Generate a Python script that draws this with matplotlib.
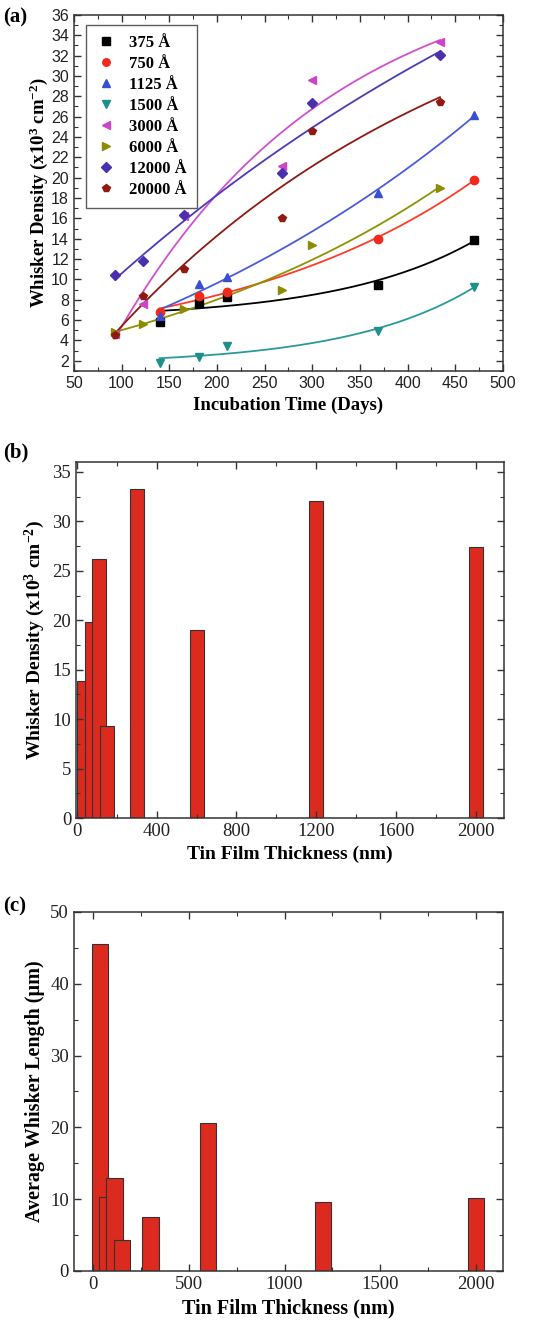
import numpy as np
import matplotlib
matplotlib.use('Agg')
import matplotlib.pyplot as plt
from matplotlib.ticker import MultipleLocator

# ---- panel (a): whisker density vs incubation time ----
labels_a = ['375 Å', '750 Å', '1125 Å', '1500 Å', '3000 Å', '6000 Å', '12000 Å', '20000 Å']
days_375 = [140, 181, 211, 369, 470]
dens_375 = [5.8, 7.7, 8.3, 9.45, 13.9]
days_750 = [140, 181, 211, 369, 470]
dens_750 = [6.8, 8.4, 8.75, 14.0, 19.8]
days_1125 = [140, 181, 211, 369, 470]
dens_1125 = [6.4, 9.5, 10.25, 18.5, 26.2]
days_1500 = [140, 181, 211, 369, 470]
dens_1500 = [1.75, 2.4, 3.5, 4.9, 9.3]
days_3000 = [93, 123, 166, 268, 300, 434]
dens_3000 = [4.6, 7.55, 16.2, 21.1, 29.6, 33.3]
days_6000 = [93, 123, 166, 268, 300, 434]
dens_6000 = [4.85, 5.65, 7.1, 9.0, 13.35, 19.0]
days_12000 = [93, 123, 166, 268, 300, 434]
dens_12000 = [10.4, 11.8, 16.3, 20.5, 27.35, 32.1]
days_20000 = [93, 123, 166, 268, 300, 434]
dens_20000 = [4.5, 8.4, 11.05, 16.05, 24.6, 27.4]

# ---- panels (b) and (c): vs film thickness ----
thickness_nm = [37.5, 75, 112.5, 150, 300, 600, 1200, 2000]
density_b = [13.9, 19.8, 26.2, 9.3, 33.3, 19.0, 32.1, 27.4]
length_c = [45.5, 10.3, 13.0, 4.3, 7.5, 20.6, 9.6, 10.1]

series = [
    (days_375, dens_375, 's', '#000000', '#000000'),
    (days_750, dens_750, 'o', '#f02a1c', '#ff3b2a'),
    (days_1125, dens_1125, '^', '#3a4fd0', '#4a5cd8'),
    (days_1500, dens_1500, 'v', '#1f8f8c', '#2a9a98'),
    (days_3000, dens_3000, '<', '#cc44c8', '#d050d0'),
    (days_6000, dens_6000, '>', '#8c8c00', '#8c9400'),
    (days_12000, dens_12000, 'D', '#4a2fae', '#4a3cb8'),
    (days_20000, dens_20000, 'p', '#8e1a12', '#8e1a12'),
]

serif = 'Liberation Serif'
sans = 'Liberation Sans'
bar_color = '#dc2a1e'
edge = '#333333'

plt.rcParams['mathtext.fontset'] = 'custom'
plt.rcParams['mathtext.rm'] = 'Liberation Serif:bold'
plt.rcParams['mathtext.bf'] = 'Liberation Serif:bold'
plt.rcParams['mathtext.it'] = 'Liberation Serif:bold'


def exp_fit(x, y):
    # y = y0 + A*exp(x/t), t scanned, y0 and A by least squares
    x = np.asarray(x, float)
    y = np.asarray(y, float)
    best = None
    for t in np.concatenate([np.linspace(-2000, -30, 400), np.linspace(30, 2000, 400)]):
        M = np.column_stack([np.ones_like(x), np.exp(x / t)])
        c, *_ = np.linalg.lstsq(M, y, rcond=None)
        r = np.sum((M @ c - y) ** 2)
        if best is None or r < best[0]:
            best = (r, t, c)
    _, t, c = best
    return lambda xs: c[0] + c[1] * np.exp(xs / t)


fig = plt.figure(figsize=(5.39, 13.31), dpi=100)


def style_axes(ax, tick_font):
    for s in ax.spines.values():
        s.set_linewidth(1.1)
        s.set_color(edge)
    ax.tick_params(which='both', direction='in', top=True, right=True, colors=edge)
    ax.tick_params(which='major', length=5, width=1.0, labelsize=11, labelcolor='#222222')
    ax.tick_params(which='minor', length=3, width=0.8)
    for lab in ax.get_xticklabels() + ax.get_yticklabels():
        lab.set_family(tick_font)


# (a)
ax1 = fig.add_axes([0.137, 0.7213, 0.796, 0.2675])
for (x, y, m, mc, lc), lab in zip(series, labels_a):
    f = exp_fit(x, y)
    xs = np.linspace(min(x), max(x), 200)
    ax1.plot(xs, f(xs), color=lc, lw=1.3, zorder=2)
    ax1.plot(x, y, ls='none', marker=m, ms=6 if m != 'D' else 5.5, color=mc,
             mec=mc, label=lab, zorder=3)
ax1.set_xlim(50, 500)
ax1.set_ylim(1, 36)
ax1.xaxis.set_major_locator(MultipleLocator(50))
ax1.xaxis.set_minor_locator(MultipleLocator(25))
ax1.yaxis.set_major_locator(MultipleLocator(2))
ax1.yaxis.set_minor_locator(MultipleLocator(1))
style_axes(ax1, sans)
ax1.tick_params(which='major', labelsize=11.5)
ax1.set_xlabel('Incubation Time (Days)', family=serif, fontweight='bold', fontsize=13.5, labelpad=4)
ax1.set_ylabel(r'Whisker Density (x10$^{3}$ cm$^{-2}$)', family=serif, fontweight='bold',
               fontsize=13.5, labelpad=1)
leg = ax1.legend(loc='upper left', bbox_to_anchor=(0.008, 0.995), frameon=True, fancybox=False,
                 edgecolor=edge, prop={'family': serif, 'weight': 'bold', 'size': 12},
                 handletextpad=0.7, labelspacing=0.3, borderpad=0.6, handlelength=1.3,
                 markerscale=0.9)
leg.get_frame().set_linewidth(1.0)
fig.text(0.005, 0.987, '(a)', family=serif, fontweight='bold', fontsize=15, va='center')

# (b)
ax2 = fig.add_axes([0.141, 0.3853, 0.794, 0.2676])
ax2.bar(thickness_nm, density_b, width=70, color=bar_color, edgecolor=edge, linewidth=0.8)
ax2.set_xlim(-4, 2140)
ax2.set_ylim(0, 36)
ax2.xaxis.set_major_locator(MultipleLocator(400))
ax2.xaxis.set_minor_locator(MultipleLocator(200))
ax2.yaxis.set_major_locator(MultipleLocator(5))
ax2.yaxis.set_minor_locator(MultipleLocator(2.5))
style_axes(ax2, serif)
ax2.tick_params(which='major', labelsize=13.5)
ax2.set_xlabel('Tin Film Thickness (nm)', family=serif, fontweight='bold', fontsize=14, labelpad=4)
ax2.set_ylabel(r'Whisker Density (x10$^{3}$ cm$^{-2}$)', family=serif, fontweight='bold',
               fontsize=14, labelpad=4)
fig.text(0.005, 0.66, '(b)', family=serif, fontweight='bold', fontsize=15, va='center')

# (c)
ax3 = fig.add_axes([0.137, 0.0451, 0.796, 0.2698])
ax3.bar(thickness_nm, length_c, width=85, color=bar_color, edgecolor=edge, linewidth=0.8)
ax3.set_xlim(-100, 2140)
ax3.set_ylim(0, 50)
ax3.xaxis.set_major_locator(MultipleLocator(500))
ax3.xaxis.set_minor_locator(MultipleLocator(250))
ax3.yaxis.set_major_locator(MultipleLocator(10))
ax3.yaxis.set_minor_locator(MultipleLocator(5))
style_axes(ax3, serif)
ax3.tick_params(which='major', labelsize=13.5)
ax3.set_xlabel('Tin Film Thickness (nm)', family=serif, fontweight='bold', fontsize=14.5, labelpad=4)
ax3.set_ylabel('Average Whisker Length (µm)', family=serif, fontweight='bold', fontsize=14.5,
               labelpad=4)
fig.text(0.005, 0.319, '(c)', family=serif, fontweight='bold', fontsize=15, va='center')

fig.savefig('out.png', dpi=100)
